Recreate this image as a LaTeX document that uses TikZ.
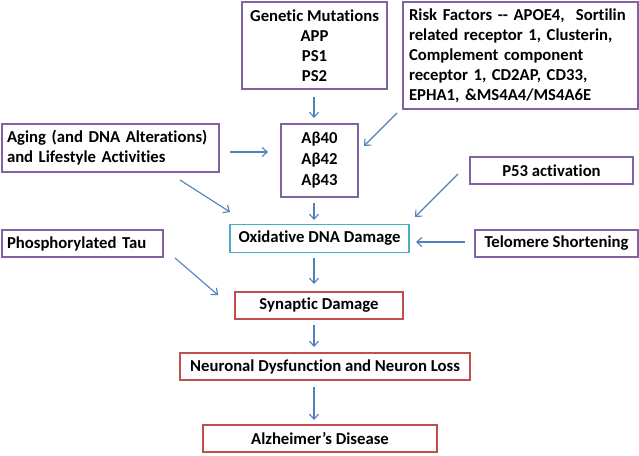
\documentclass[tikz,border=0pt]{standalone}
\usepackage{fontspec}
\setmainfont{Carlito}[Ligatures={TeX,NoCommon}]
\usetikzlibrary{arrows.meta}
\definecolor{purp}{HTML}{8064A2}
\definecolor{cyanb}{HTML}{4BACC6}
\definecolor{redb}{HTML}{C0504D}
\definecolor{arrb}{HTML}{4F81BD}
\begin{document}
\begin{tikzpicture}[x=1pt,y=-1pt,
  box/.style={draw=purp,line width=1.6pt,inner sep=0pt,font=\bfseries\fontsize{16.7}{20}\selectfont},
  cbox/.style={box,draw=cyanb},
  rbox/.style={box,draw=redb},
  arr/.style={draw=arrb,line width=1.1pt,-{Straight Barb[length=5pt,width=9pt]}}]
\useasboundingbox[fill=white] (0,0) rectangle (639,455);
\node[box,minimum width=145pt,minimum height=87pt,align=center] (gen) at (314.5,45.5) {Genetic Mutations\\APP\\PS1\\PS2};
\node[box,minimum width=235pt,minimum height=107pt,text width=223pt,align=left] (risk) at (520.5,55.5) {Risk Factors -{}- APOE4,\ \ Sortilin\\related receptor 1, Clusterin,\\Complement component\\receptor 1, CD2AP, CD33,\\EPHA1, \&MS4A4/MS4A6E};
\node[box,minimum width=77pt,minimum height=73pt,align=center,font=\bfseries\fontsize{16.7}{21}\selectfont] (ab) at (319.5,160.5) {Aβ40\\Aβ42\\Aβ43};
\node[box,minimum width=163pt,minimum height=27pt] (p53) at (551.5,170.5) {P53 activation};
\node[box,minimum width=217pt,minimum height=48pt,text width=207pt,align=left] (aging) at (110.5,148) {Aging (and DNA Alterations)\\and Lifestyle Activities};
\node[box,minimum width=161pt,minimum height=27pt,text width=151pt,align=left] (tau) at (82.5,243.5) {Phosphorylated Tau};
\node[cbox,minimum width=179pt,minimum height=28pt] (ox) at (319.5,238.5) {Oxidative DNA Damage};
\node[box,minimum width=163pt,minimum height=27pt] (tel) at (556.5,243.5) {Telomere Shortening};
\node[rbox,minimum width=168pt,minimum height=27pt] (syn) at (319,305.5) {Synaptic Damage};
\node[rbox,minimum width=290pt,minimum height=27pt] (neu) at (325,366.5) {Neuronal Dysfunction and Neuron Loss};
\node[rbox,minimum width=234pt,minimum height=27pt] (alz) at (320,438.5) {Alzheimer’s Disease};
% arrow endpoints
\coordinate (g1) at (314,97); \coordinate (g2) at (314,118);
\coordinate (r1) at (397,113); \coordinate (r2) at (364,146);
\coordinate (a1) at (230,152); \coordinate (a2) at (268,152);
\coordinate (a3) at (180,180); \coordinate (a4) at (230,212);
\coordinate (b1) at (314,203); \coordinate (b2) at (314,220);
\coordinate (p1) at (458,174); \coordinate (p2) at (415,217);
\coordinate (t1) at (465,242); \coordinate (t2) at (416,242);
\coordinate (u1) at (175,258); \coordinate (u2) at (218,295);
\coordinate (o1) at (314,258); \coordinate (o2) at (314,284);
\coordinate (s1) at (314,325); \coordinate (s2) at (314,347);
\coordinate (n1) at (314,387); \coordinate (n2) at (314,420);
\draw[arr] (g1) -- (g2);
\draw[arr] (r1) -- (r2);
\draw[arr] (a1) -- (a2);
\draw[arr] (a3) -- (a4);
\draw[arr] (b1) -- (b2);
\draw[arr] (p1) -- (p2);
\draw[arr] (t1) -- (t2);
\draw[arr] (u1) -- (u2);
\draw[arr] (o1) -- (o2);
\draw[arr] (s1) -- (s2);
\draw[arr] (n1) -- (n2);
\end{tikzpicture}
\end{document}
